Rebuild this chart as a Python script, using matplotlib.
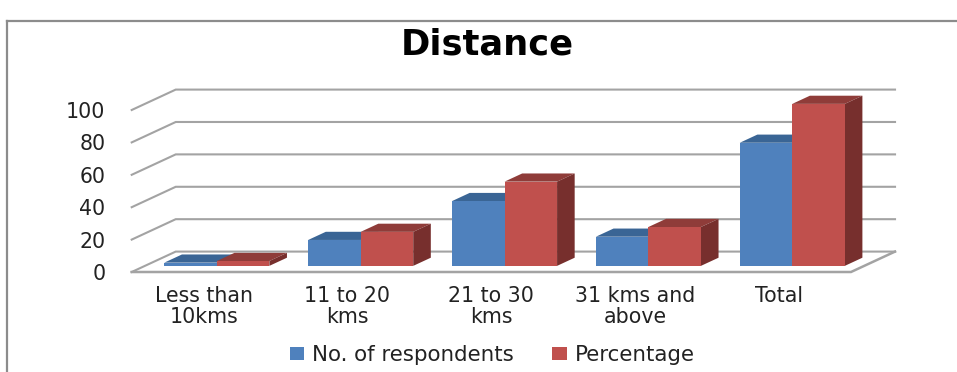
import matplotlib
matplotlib.use("Agg")
import matplotlib.pyplot as plt
from matplotlib.lines import Line2D
from matplotlib.patches import Polygon

# Survey results by travel distance
categories = ["Less than\n10kms", "11 to 20\nkms", "21 to 30\nkms", "31 kms and\nabove", "Total"]
respondents = [2, 16, 40, 18, 76]
percentage = [3, 21, 52, 24, 100]
y_ticks = [0, 20, 40, 60, 80, 100]

W, H = 957, 372
plt.rcParams["font.family"] = "DejaVu Sans"
fig = plt.figure(figsize=(W / 100, H / 100), dpi=100, facecolor="white")

# The axes cover the front plane of the oblique 3-D box
left, right, bottom, top = 131.7, 851.0, 272.0, 110.0
ax = fig.add_axes([left / W, 1 - bottom / H, (right - left) / W, (bottom - top) / H])
ax.set_xlim(0, len(categories))
ax.set_ylim(0, 100)
ax.patch.set_visible(False)
for side in ax.spines.values():
    side.set_visible(False)

# Oblique offset for one full unit of depth, in data units
DX, DY = 0.306, 12.6
GRID = "#a3a3a3"


def shift(x, y, depth):
    return x + DX * depth, y + DY * depth


# Back wall gridlines, slanted side lines and the floor edges
for t in y_ticks:
    bx, by = shift(0, t, 1)
    ex, ey = shift(len(categories), t, 1)
    ax.plot([0, bx, ex], [t, by, ey], color=GRID, lw=1.5, clip_on=False, zorder=1,
            solid_joinstyle="miter")
ex, ey = shift(len(categories), 0, 1)
ax.plot([0, len(categories), ex], [0, 0, ey], color=GRID, lw=1.8, clip_on=False, zorder=1,
        solid_joinstyle="miter")

BAR_W = 0.365
D0, D1 = 0.30, 0.70


def draw_bar(x, value, face, top_c, side_c, z):
    x0, y0 = shift(x, 0, D0)
    x1 = x0 + BAR_W
    y1 = y0 + value
    sx, sy = DX * (D1 - D0), DY * (D1 - D0)
    ax.add_patch(Polygon([(x0, y1), (x1, y1), (x1 + sx, y1 + sy), (x0 + sx, y1 + sy)],
                         fc=top_c, ec="none", clip_on=False, zorder=z))
    ax.add_patch(Polygon([(x1, y0), (x1 + sx, y0 + sy), (x1 + sx, y1 + sy), (x1, y1)],
                         fc=side_c, ec="none", clip_on=False, zorder=z))
    return ax.bar(x0, value, width=BAR_W, bottom=y0, align="edge", color=face,
                  clip_on=False, zorder=z + 0.5)


BLUE = ("#4f81bd", "#3a6595", "#2f5279")
RED = ("#c0504d", "#8f3c39", "#772f2d")
for i, (a, b) in enumerate(zip(respondents, percentage)):
    start = i + 0.5 - BAR_W
    h1 = draw_bar(start, a, *BLUE, 3 + i * 2)
    h2 = draw_bar(start + BAR_W, b, *RED, 4 + i * 2)
handles = [h1, h2]

# Tick labels
ax.set_yticks(y_ticks)
ax.set_xticks([i + 0.5 for i in range(len(categories))])
ax.set_xticklabels(categories, linespacing=1.1)
ax.tick_params(axis="both", length=0, labelcolor="#222222")
ax.tick_params(axis="y", pad=19, labelsize=14.8)
ax.tick_params(axis="x", pad=10, labelsize=14.8)

leg = fig.legend(handles, ["No. of respondents", "Percentage"], ncol=2, frameon=False,
                 fontsize=15.4, labelcolor="#222222", loc="center",
                 bbox_to_anchor=(492 / W, 1 - 355 / H), handlelength=0.7, handleheight=0.55,
                 handletextpad=0.37, columnspacing=1.75)

fig.text(487.5 / W, 1 - 44.5 / H, "Distance", ha="center", va="center",
         fontsize=25.4, fontweight="bold", color="black")

# Frame around the chart area, open on the right and at the bottom
for xs, ys in (([7, W], [21, 21]), ([7, 7], [21, H])):
    fig.add_artist(Line2D([x / W for x in xs], [1 - y / H for y in ys], color="#8c8c8c", lw=1.6))

fig.savefig("out.png", dpi=100)
